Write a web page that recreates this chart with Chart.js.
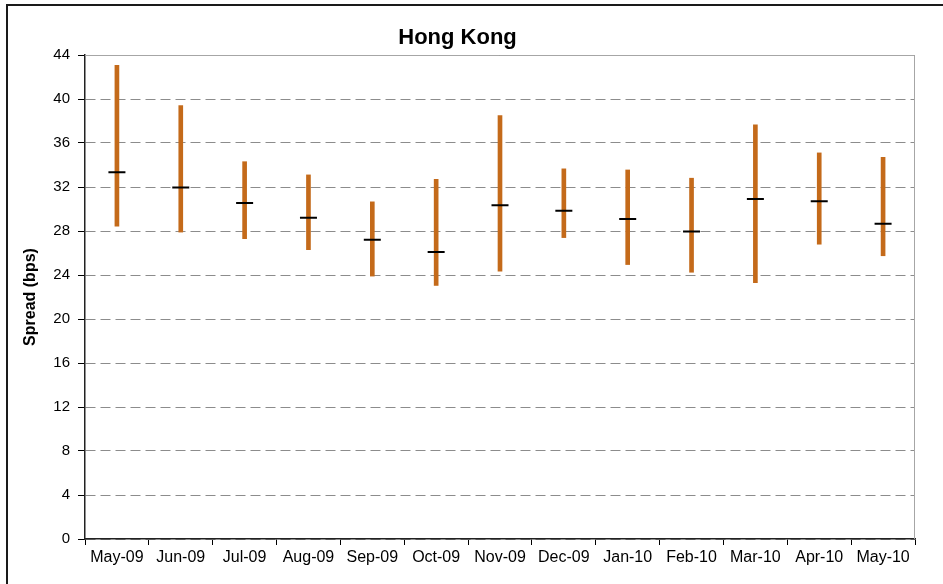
<!DOCTYPE html>
<html>
<head>
<meta charset="utf-8">
<script src="https://cdn.jsdelivr.net/npm/chart.js@4.4.1/dist/chart.umd.min.js"></script>
<style>
  html, body { margin: 0; padding: 0; background: #fff; }
  #wrap { width: 943px; height: 584px; position: relative; }
</style>
</head>
<body>
<div id="wrap"><canvas id="chart"></canvas></div>
<script>
// Rango mensual del spread (bps) para Hong Kong: máximo, mínimo y media.
const months = ["May-09", "Jun-09", "Jul-09", "Aug-09", "Sep-09", "Oct-09", "Nov-09",
    "Dec-09", "Jan-10", "Feb-10", "Mar-10", "Apr-10", "May-10"];
const highs = [43.05, 39.4, 34.3, 33.1, 30.65, 32.7, 38.5, 33.65, 33.55, 32.8, 37.65, 35.1, 34.7];
const lows = [28.45, 27.9, 27.3, 26.3, 23.9, 23.05, 24.35, 27.4, 24.95, 24.25, 23.3, 26.8, 25.75];
const means = [33.35, 31.95, 30.55, 29.2, 27.2, 26.1, 30.35, 29.85, 29.1, 27.95, 30.9, 30.7, 28.65];

const FONT = "'Liberation Sans', Arial, sans-serif";
const RANGE_COLOR = "#C46A1A";
const GRID_COLOR = "#8c8c8c";

// Marco exterior (solo izquierda/arriba visibles) + borde gris del área de trazado.
const framePlugin = {
    id: "frame",
    beforeDraw(chart) {
        const ctx = chart.ctx;
        ctx.save();
        ctx.fillStyle = "#fff";
        ctx.fillRect(0, 0, chart.width, chart.height);
        ctx.fillStyle = "#1a1a1a";
        ctx.fillRect(6, 4, 2, chart.height);
        ctx.fillRect(6, 4, chart.width, 2);
        ctx.restore();
    },
    beforeDatasetsDraw(chart) {
        const {ctx, chartArea: a} = chart;
        ctx.save();
        ctx.strokeStyle = "#a6a6a6";
        ctx.lineWidth = 1;
        ctx.beginPath();
        ctx.moveTo(a.left, a.top + 0.5);
        ctx.lineTo(a.right - 0.5, a.top + 0.5);
        ctx.lineTo(a.right - 0.5, a.bottom);
        ctx.stroke();
        ctx.restore();
    },
};

new Chart(document.getElementById("chart"), {
    type: "bar",
    data: {
        labels: months,
        datasets: [
            {
                type: "line",
                label: "Media",
                data: means,
                showLine: false,
                pointStyle: "line",
                pointRadius: 8.5,
                pointHoverRadius: 8.5,
                pointBorderWidth: 2,
                pointBorderColor: "#000",
                pointBackgroundColor: "#000",
                order: 0,
            },
            {
                label: "Rango",
                data: lows.map((l, i) => [l, highs[i]]),
                backgroundColor: RANGE_COLOR,
                borderWidth: 0,
                barThickness: 4,
                borderSkipped: false,
                order: 1,
            },
        ],
    },
    options: {
        responsive: true,
        maintainAspectRatio: false,
        animation: false,
        layout: { padding: { left: 0, right: 28, top: 0, bottom: 0 } },
        plugins: {
            legend: { display: false },
            tooltip: { enabled: false },
            title: {
                display: true,
                text: "Hong Kong",
                color: "#000",
                font: { family: FONT, size: 22, weight: "bold" },
                padding: { top: 25, bottom: 3.6 },
            },
        },
        scales: {
            x: {
                offset: true,
                grid: {
                    offset: true,
                    drawOnChartArea: false,
                    tickLength: 6,
                    tickColor: "#000",
                },
                border: { color: "#222", width: 1.5 },
                ticks: {
                    color: "#000",
                    padding: 3,
                    maxRotation: 0,
                    autoSkip: false,
                    font: { family: FONT, size: 16 },
                },
                afterFit: (s) => { s.height = 45; },
            },
            y: {
                min: 0,
                max: 44,
                ticks: {
                    stepSize: 4,
                    color: "#000",
                    padding: 8,
                    font: { family: FONT, size: 15 },
                },
                grid: {
                    color: GRID_COLOR,
                    tickLength: 7,
                    tickColor: "#000",
                    tickBorderDash: [],
                },
                border: { color: "#222", width: 1.5, dash: [10, 5] },
                title: {
                    display: true,
                    text: "Spread (bps)",
                    color: "#000",
                    font: { family: FONT, size: 16, weight: "bold" },
                    padding: { top: 21, bottom: 0 },
                },
                afterFit: (s) => { s.width = 85; },
            },
        },
    },
    plugins: [framePlugin],
});
</script>
</body>
</html>
